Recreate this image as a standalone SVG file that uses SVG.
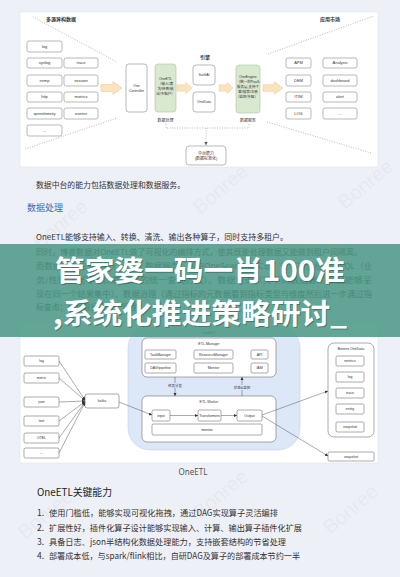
<svg xmlns="http://www.w3.org/2000/svg" width="400" height="577" viewBox="0 0 400 577">
<style>
.card{fill:#fff;stroke:#e1e4ee;stroke-width:0.6}
.bx{fill:#fff;stroke:#8a8a8a;stroke-width:0.6}
.gb{fill:#d8e9d0;stroke:#a8c89c;stroke-width:0.6}
.t4{font-family:"Liberation Sans","Noto Sans CJK SC",sans-serif;font-size:4px;fill:#333;text-anchor:middle}
.t35{font-family:"Liberation Sans","Noto Sans CJK SC",sans-serif;font-size:3.5px;fill:#333;text-anchor:middle}
.tt{font-family:"Noto Sans CJK SC",sans-serif;font-size:5px;fill:#333;font-weight:bold}
.dot{fill:none;stroke:#888;stroke-width:0.6;stroke-dasharray:1 1.5}
.fat{fill:#fbe3bd;stroke:#ecc388;stroke-width:0.5}
.ln{fill:none;stroke:#444;stroke-width:0.45}
.bb{fill:#fff;stroke:#555;stroke-width:0.5}
.body{font-family:"Noto Sans CJK SC","Liberation Sans",sans-serif;font-size:7.8px;fill:#333}
.li{font-family:"Noto Sans CJK SC","Liberation Sans",sans-serif;font-size:8.5px;fill:#333}
.wm{font-family:"Liberation Sans",sans-serif;font-size:20px;fill:#000;opacity:0.028}
.ban{font-family:"Noto Sans CJK SC",sans-serif;font-size:28px;font-weight:bold;fill:#fff}
.bansh{font-family:"Noto Sans CJK SC",sans-serif;font-size:28px;font-weight:bold;fill:#1d4a40;opacity:0.45}
</style>
<defs>
<path id="fat" d="M0,-3.5 H12 V-6.5 L21,0 L12,6.5 V3.5 H0 Z"/>
<marker id="ah" viewBox="0 0 6 6" refX="6" refY="3" markerWidth="3.2" markerHeight="3.2" markerUnits="userSpaceOnUse" orient="auto"><path d="M0,0 L6,3 L0,6 Z" fill="#333"/></marker>
</defs>
<rect width="400" height="577" fill="#eef0f8"/>

<!-- top diagram card -->
<g id="top-card"><rect class="card" x="20" y="12" width="358" height="155"/></g>
<g id="top-titles">
<text class="tt" x="46" y="21">多源异构数据</text>
<text class="tt" x="320" y="21">应用市场</text>
<text class="tt" x="205" y="59" text-anchor="middle">引擎</text>
</g>
<g id="top-sources">
<rect class="bx" x="27" y="41" width="35" height="11" rx="2"/><text class="t4" x="44.5" y="47.9">log</text>
<rect class="bx" x="27" y="58" width="35" height="10" rx="2"/><text class="t4" x="44.5" y="64.4">syslog</text>
<rect class="bx" x="64" y="58" width="34" height="10" rx="2"/><text class="t4" x="81" y="64.4">trace</text>
<rect class="bx" x="27" y="75" width="35" height="11" rx="2"/><text class="t4" x="44.5" y="81.9">snmp</text>
<rect class="bx" x="64" y="75" width="34" height="11" rx="2"/><text class="t4" x="81" y="81.9">session</text>
<rect class="bx" x="27" y="92" width="35" height="10" rx="2"/><text class="t4" x="44.5" y="98.4">http</text>
<rect class="bx" x="64" y="92" width="34" height="10" rx="2"/><text class="t4" x="81" y="98.4">metrics</text>
<rect class="bx" x="27" y="108" width="35" height="11" rx="2"/><text class="t35" x="44.5" y="114.8">opentelemetry</text>
<rect class="bx" x="64" y="108" width="34" height="11" rx="2"/><text class="t4" x="81" y="114.9">events</text>
<rect class="bx" x="27" y="125" width="35" height="11" rx="2"/><text class="t4" x="44.5" y="131.9">...</text>
</g>
<g id="top-controller">
<rect class="bx" x="126" y="64" width="21" height="48" rx="3"/>
<text class="t35" x="136.5" y="87">One</text><text class="t35" x="136.5" y="91.5">Controller</text>
</g>
<g id="top-oneetl">
<rect class="gb" x="155" y="64" width="21" height="48" rx="3"/>
<text class="t35" x="165.5" y="80">OneETL</text>
<text class="t35" x="165.5" y="85">（输入/清</text>
<text class="t35" x="165.5" y="90">洗/转换/输</text>
<text class="t35" x="165.5" y="95">出/多租户）</text>
<text class="t4" x="165.5" y="122">数据处理</text>
</g>
<g id="top-swiftai"><rect class="bx" x="193" y="65" width="22" height="20" rx="3"/><text class="t35" x="204" y="76.2">SwiftAI</text></g>
<g id="top-onedata"><rect class="bx" x="193" y="92" width="22" height="20" rx="3"/><text class="t35" x="204" y="103.2">OneData</text></g>
<g id="top-oneengine">
<rect class="gb" x="236" y="65" width="24" height="48" rx="3"/>
<text class="t35" x="248" y="78">OneEngine</text>
<text class="t35" x="248" y="83">（统一的PaaS</text>
<text class="t35" x="248" y="88">服务层,支持下</text>
<text class="t35" x="248" y="93">载/搜索/注册</text>
<text class="t35" x="248" y="98">/监控/多租）</text>
<text class="t4" x="248" y="122">数据服务</text>
</g>
<g id="top-apps">
<rect class="bx" x="286" y="58" width="25" height="10" rx="2"/><text class="t4" x="298.5" y="64.4">APM</text>
<rect class="bx" x="323" y="58" width="34" height="10" rx="2"/><text class="t4" x="340" y="64.4">Analysis</text>
<rect class="bx" x="286" y="75" width="25" height="11" rx="2"/><text class="t4" x="298.5" y="81.9">DEM</text>
<rect class="bx" x="323" y="75" width="34" height="11" rx="2"/><text class="t4" x="340" y="81.9">dashboard</text>
<rect class="bx" x="286" y="92" width="25" height="10" rx="2"/><text class="t4" x="298.5" y="98.4">ITIM</text>
<rect class="bx" x="323" y="92" width="34" height="10" rx="2"/><text class="t4" x="340" y="98.4">alert</text>
<rect class="bx" x="286" y="108" width="25" height="11" rx="2"/><text class="t4" x="298.5" y="114.9">LOG</text>
<rect class="bx" x="323" y="108" width="34" height="11" rx="2"/><text class="t4" x="340" y="114.9">...</text>
</g>
<g id="top-capability">
<rect class="bx" x="186" y="146" width="40" height="19" rx="3"/>
<text class="t4" x="206" y="154.5">中台能力</text><text class="t4" x="206" y="159.5">(数据标准化)</text>
</g>
<g id="top-connectors">
<path class="dot" d="M33,17 L117,62 M25,149 L117,118 M268,54 L374,16 M267,122 L371,153"/>
<path class="dot" d="M166,124 V128 H249 M249,124 V128"/>
<path class="dot" d="M206,128 V143"/>
<path d="M204.4,142 L206,145.5 L207.6,142 Z" fill="#555"/>
<use href="#fat" class="fat" transform="translate(101,88)"/>
<use href="#fat" class="fat" transform="translate(177,88) scale(0.72,0.9)"/>
<use href="#fat" class="fat" transform="translate(219,88) scale(0.67,0.9)"/>
<use href="#fat" class="fat" transform="translate(263,88) scale(0.95,0.95)"/>
</g>

<!-- article text -->
<g id="watermarks">
<text class="wm" x="40" y="250" transform="rotate(-40 40 250)">Bonree</text>
<text class="wm" x="200" y="215" transform="rotate(-40 200 215)">Bonree</text>
<text class="wm" x="345" y="210" transform="rotate(-40 345 210)">Bonree</text>
<text class="wm" x="25" y="540" transform="rotate(-40 25 540)">Bonree</text>
<text class="wm" x="200" y="520" transform="rotate(-40 200 520)">Bonree</text>
<text class="wm" x="330" y="535" transform="rotate(-40 330 535)">Bonree</text>
</g>
<g id="para1">
<text class="body" x="36" y="188" textLength="149" lengthAdjust="spacingAndGlyphs">数据中台的能力包括数据处理和数据服务。</text>
<text x="27" y="210.5" font-family="Noto Sans CJK SC, sans-serif" font-size="9px" fill="#3a67b8" textLength="36" lengthAdjust="spacingAndGlyphs">数据处理</text>
<text class="body" x="36" y="240" textLength="252" lengthAdjust="spacingAndGlyphs">OneETL能够支持输入、转换、清洗、输出各种算子，同时支持多租户。</text>
<text class="body" x="36" y="254.5" textLength="326" lengthAdjust="spacingAndGlyphs">同时，博睿数据对OneETL做了可视化的编排方式，使其既能处理数据又能做到租户间隔离。</text>
<text class="body" x="36" y="268.5" textLength="336" lengthAdjust="spacingAndGlyphs">而数据中台的另一核心业务：数据服务，则由OneSearch来实现，能够提供统一的SQL（业</text>
<text class="body" x="36" y="282.5" textLength="336" lengthAdjust="spacingAndGlyphs">务/性能数据等不同数据源的统一查询方式）、数据查询（将不同数据源的数据能够呈</text>
<text class="body" x="36" y="296.5" textLength="336" lengthAdjust="spacingAndGlyphs">现在同一个结果集中）、数据治理（通过指标的元数据看到指标类型与维度然后进一步通过指</text>
<text class="body" x="36" y="310">标查询；以及数据的统一管理。</text>
</g>

<!-- bottom diagram card -->
<g id="bottom-card"><rect class="card" x="20" y="323" width="358" height="140"/></g>
<g id="oneetl-region">
<rect x="128" y="326" width="172" height="124" rx="22" fill="#dce7f8" stroke="#c2d3ee" stroke-width="0.6"/>
<text class="t4" x="209" y="334">OneETL</text>
</g>
<g id="etl-manager">
<rect class="bb" x="142" y="338" width="134" height="39" rx="5"/>
<text class="t35" x="209" y="344.5">ETL-Manager</text>
<rect class="bb" x="145" y="350" width="31" height="9" rx="1.5"/><text class="t35" x="160.5" y="355.7">TaskManager</text>
<rect class="bb" x="145" y="363" width="31" height="10" rx="1.5"/><text class="t35" x="160.5" y="369.2">DAG/pipeline</text>
<rect class="bb" x="194" y="350" width="39" height="9" rx="1.5"/><text class="t35" x="213.5" y="355.7">ResourceManager</text>
<rect class="bb" x="194" y="363" width="39" height="10" rx="1.5"/><text class="t35" x="213.5" y="369.2">Monitor</text>
<rect class="bb" x="251" y="350" width="17" height="9" rx="1.5"/><text class="t35" x="259.5" y="355.7">API</text>
<rect class="bb" x="251" y="363" width="17" height="10" rx="1.5"/><text class="t35" x="259.5" y="369.2">IAM</text>
</g>
<g id="etl-worker">
<rect class="bb" x="142" y="396" width="134" height="46" rx="5"/>
<text class="t35" x="209" y="402.5">ETL-Worker</text>
<rect class="bb" x="152" y="410" width="18" height="11" rx="1.5"/><text class="t35" x="161" y="416.7">input</text>
<rect class="bb" x="198" y="410" width="23" height="11" rx="1.5"/><text class="t35" x="209.5" y="416.7">Transformers</text>
<rect class="bb" x="237" y="410" width="25" height="11" rx="1.5"/><text class="t35" x="249.5" y="416.7">Output</text>
<rect class="bb" x="152" y="424" width="110" height="11" rx="1.5"/><text class="t35" x="207" y="430.7">monitor</text>
</g>
<g id="sources-bottom">
<rect class="bb" x="24" y="356" width="35" height="10" rx="1.5"/><text class="t35" x="41.5" y="362.2">log</text>
<rect class="bb" x="24" y="373" width="35" height="10" rx="1.5"/><text class="t35" x="41.5" y="379.2">metric</text>
<rect class="bb" x="24" y="397" width="35" height="10" rx="1.5"/><text class="t35" x="41.5" y="403.2">json</text>
<rect class="bb" x="24" y="416" width="35" height="10" rx="1.5"/><text class="t35" x="41.5" y="422.2">text</text>
<rect class="bb" x="24" y="433" width="35" height="10" rx="1.5"/><text class="t35" x="41.5" y="439.2">OTEL</text>
<rect class="bb" x="24" y="448" width="35" height="10" rx="1.5"/><text class="t35" x="41.5" y="454.2">...</text>
</g>
<g id="kafka"><rect class="bb" x="85" y="394" width="34" height="14" rx="2"/><text class="t35" x="102" y="402.2">kafka</text></g>
<g id="bonree-onedata">
<rect class="bb" x="328" y="343" width="46" height="94" rx="6"/>
<text class="t35" x="351" y="350">Bonree OneData</text>
<rect class="bb" x="336" y="356" width="28" height="10" rx="1.5"/><text class="t35" x="350" y="362.2">metrics</text>
<rect class="bb" x="336" y="372" width="28" height="10" rx="1.5"/><text class="t35" x="350" y="378.2">log</text>
<rect class="bb" x="336" y="388" width="28" height="10" rx="1.5"/><text class="t35" x="350" y="394.2">trace</text>
<rect class="bb" x="336" y="404" width="28" height="10" rx="1.5"/><text class="t35" x="350" y="410.2">entity</text>
<rect class="bb" x="336" y="422" width="28" height="10" rx="1.5"/><text class="t35" x="350" y="428.2">snapshot</text>
</g>
<g id="snapshot-out"><rect class="bb" x="328" y="452" width="46" height="9" rx="1.5"/><text class="t35" x="351" y="457.7">snapshot</text></g>
<g id="bottom-connectors">
<path class="ln" marker-end="url(#ah)" d="M59,361 L85,400"/>
<path class="ln" marker-end="url(#ah)" d="M59,378 L85,400.5"/>
<path class="ln" marker-end="url(#ah)" d="M59,402 L85,401"/>
<path class="ln" marker-end="url(#ah)" d="M59,421 L85,401.5"/>
<path class="ln" marker-end="url(#ah)" d="M59,438 L85,402"/>
<path class="ln" marker-end="url(#ah)" d="M59,453 L85,402.5"/>
<path class="ln" marker-end="url(#ah)" d="M119,402 L152,415"/>
<path class="ln" marker-end="url(#ah)" d="M170,415.5 L198,415.5"/>
<path class="ln" marker-end="url(#ah)" d="M221,415.5 L237,415.5"/>
<path class="ln" marker-end="url(#ah)" d="M262,415 L328,391"/>
<path class="ln" marker-end="url(#ah)" d="M262,416 L328,456"/>
<path class="ln" marker-end="url(#ah)" d="M175,377 L175,396"/>
<path class="ln" marker-end="url(#ah)" d="M242,396 L242,377"/>
<rect x="165" y="383" width="20" height="5" fill="#dce7f8"/>
<text class="t35" x="175" y="386.8">任务分发</text>
<rect x="231" y="385" width="22" height="5" fill="#dce7f8"/>
<text class="t35" x="242" y="388.8">状态&amp;监控</text>
</g>

<!-- banner overlay -->
<g id="banner">
<rect x="0" y="244" width="400" height="93" fill="#4a9785" opacity="0.86"/>
<text class="bansh" x="56" y="282" textLength="290" lengthAdjust="spacingAndGlyphs">管家婆一码一肖100准</text>
<text class="ban" x="55" y="281" textLength="290" lengthAdjust="spacingAndGlyphs">管家婆一码一肖100准</text>
<text class="bansh" x="54" y="325" textLength="294" lengthAdjust="spacingAndGlyphs">,系统化推进策略研讨_</text>
<text class="ban" x="53" y="324" textLength="294" lengthAdjust="spacingAndGlyphs">,系统化推进策略研讨_</text>
</g>

<!-- caption and list -->
<g id="caption"><text x="193" y="475" text-anchor="middle" font-family="Noto Sans, Liberation Sans, sans-serif" font-size="8px" fill="#555">OneETL</text></g>
<g id="key-abilities">
<text x="37" y="496" font-family="Noto Sans CJK SC, sans-serif" font-size="10px" fill="#222" textLength="75" lengthAdjust="spacingAndGlyphs">OneETL关键能力</text>
<text class="li" x="37" y="515.5">1.</text>
<text class="li" x="49" y="515.5" textLength="229" lengthAdjust="spacingAndGlyphs">使用门槛低，能够实现可视化拖拽，通过DAG实现算子灵活编排</text>
<text class="li" x="37" y="530.5">2.</text>
<text class="li" x="49" y="530.5" textLength="253" lengthAdjust="spacingAndGlyphs">扩展性好，插件化算子设计能够实现输入、计算、输出算子插件化扩展</text>
<text class="li" x="37" y="544.5">3.</text>
<text class="li" x="49" y="544.5" textLength="237" lengthAdjust="spacingAndGlyphs">具备日志、json半结构化数据处理能力，支持嵌套结构的节省处理</text>
<text class="li" x="37" y="559">4.</text>
<text class="li" x="49" y="559" textLength="251" lengthAdjust="spacingAndGlyphs">部署成本低，与spark/flink相比，自研DAG及算子的部署成本节约一半</text>
</g>
</svg>
